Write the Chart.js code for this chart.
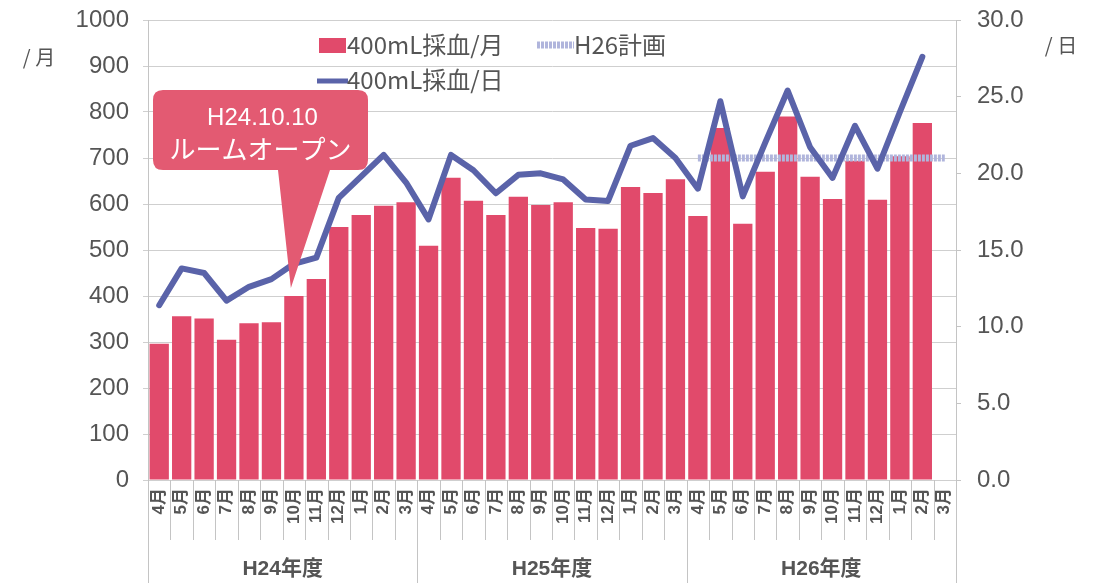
<!DOCTYPE html>
<html>
<head>
<meta charset="utf-8">
<script src="https://cdn.jsdelivr.net/npm/chart.js@4.4.1/dist/chart.umd.min.js"></script>
<style>
  html, body { margin: 0; padding: 0; background: #fff; }
  #wrap { width: 1099px; height: 583px; }
</style>
</head>
<body>
<div id="wrap"><canvas id="chart" width="1099" height="583"></canvas></div>
<script>
// data
const months = ['4月','5月','6月','7月','8月','9月','10月','11月','12月','1月','2月','3月'];
const fiscalYears = ['H24年度', 'H25年度', 'H26年度'];
const labels = [...months, ...months, ...months];

const perMonth = [
  296, 356, 351, 305, 341, 343, 400, 437, 550, 576, 596, 604,
  509, 657, 607, 576, 616, 598, 604, 548, 546, 637, 624, 654,
  574, 765, 557, 670, 790, 659, 611, 694, 609, 704, 776, null
];
const perDay = [
  11.4, 13.8, 13.5, 11.7, 12.6, 13.1, 14.1, 14.5, 18.4, 19.8, 21.2, 19.4,
  17.0, 21.2, 20.2, 18.7, 19.9, 20.0, 19.6, 18.3, 18.2, 21.8, 22.3, 21.0,
  19.0, 24.7, 18.5, 22.0, 25.4, 21.7, 19.7, 23.1, 20.3, 24.0, 27.6, null
];
const planH26 = [
  null, null, null, null, null, null, null, null, null, null, null, null,
  null, null, null, null, null, null, null, null, null, null, null, null,
  700, 700, 700, 700, 700, 700, 700, 700, 700, 700, 700, 700
];
const leftTicks = { min: 0, max: 1000, step: 100 };
const rightTicks = { min: 0, max: 30, step: 5 };

const BAR = '#e14a6b';
const LINE = '#5a63a9';
const PLAN = '#b0b5dc';
const TEXT = '#555';
const FONT = "'Liberation Sans', 'Noto Sans CJK JP', sans-serif";
const JFONT = "'Noto Sans CJK JP', sans-serif";

// extra drawing: callout, legend, axis titles, category dividers
const deco = {
  id: 'deco',
  afterDatasetsDraw(chart) {
    const ctx = chart.ctx;
    const x = chart.scales.x, y = chart.scales.y;
    const tipX = x.getPixelForValue(6) - 3;
    const tipY = y.getPixelForValue(perMonth[6]) - 8;
    const bx = 153, by = 90, bw = 215, bh = 80, r = 10;
    ctx.save();
    ctx.fillStyle = '#e35a72';
    ctx.beginPath();
    ctx.moveTo(bx + r, by);
    ctx.lineTo(bx + bw - r, by);
    ctx.quadraticCurveTo(bx + bw, by, bx + bw, by + r);
    ctx.lineTo(bx + bw, by + bh - r);
    ctx.quadraticCurveTo(bx + bw, by + bh, bx + bw - r, by + bh);
    ctx.lineTo(330, by + bh);
    ctx.lineTo(tipX, tipY);
    ctx.lineTo(278, by + bh);
    ctx.lineTo(bx + r, by + bh);
    ctx.quadraticCurveTo(bx, by + bh, bx, by + bh - r);
    ctx.lineTo(bx, by + r);
    ctx.quadraticCurveTo(bx, by, bx + r, by);
    ctx.closePath();
    ctx.fill();
    ctx.fillStyle = '#fff';
    ctx.textAlign = 'center';
    ctx.textBaseline = 'middle';
    ctx.font = '24px ' + FONT;
    ctx.fillText('H24.10.10', bx + bw / 2 + 2, 118);
    ctx.font = '26px ' + JFONT;
    ctx.fillText('ルームオープン', bx + bw / 2, 149);
    ctx.restore();
  },
  afterDraw(chart) {
    const ctx = chart.ctx;
    const x = chart.scales.x;
    const area = chart.chartArea;
    const w = x.getPixelForValue(1) - x.getPixelForValue(0);
    ctx.save();
    // dividers under the axis
    ctx.strokeStyle = '#c4c4c4';
    ctx.lineWidth = 1;
    for (let i = 0; i <= labels.length; i++) {
      const px = Math.round(x.getPixelForValue(0) - w / 2 + i * w) + 0.5;
      ctx.beginPath();
      ctx.moveTo(px, area.bottom);
      ctx.lineTo(px, i % 12 === 0 ? 583 : 540);
      ctx.stroke();
    }
    // fiscal year labels
    ctx.fillStyle = TEXT;
    ctx.font = 'bold 21px ' + FONT;
    ctx.textAlign = 'center';
    ctx.textBaseline = 'middle';
    fiscalYears.forEach((fy, k) => {
      const cx = (x.getPixelForValue(k * 12) + x.getPixelForValue(k * 12 + 11)) / 2;
      ctx.fillText(fy, cx, 569);
    });
    // axis units
    ctx.font = '20px ' + JFONT;
    ctx.fillText('/ 月', 39, 57);
    ctx.fillText('/ 日', 1061, 45);
    // legend
    ctx.textAlign = 'left';
    ctx.font = '24px ' + JFONT;
    ctx.fillStyle = BAR;
    ctx.fillRect(319, 38, 27, 15);
    ctx.fillStyle = TEXT;
    ctx.fillText('400mL採血/月', 347, 45);
    ctx.strokeStyle = PLAN;
    ctx.lineWidth = 7;
    ctx.setLineDash([3, 1]);
    ctx.beginPath();
    ctx.moveTo(537, 45);
    ctx.lineTo(574, 45);
    ctx.stroke();
    ctx.setLineDash([]);
    ctx.fillText('H26計画', 574, 45);
    ctx.strokeStyle = LINE;
    ctx.lineWidth = 5;
    ctx.beginPath();
    ctx.moveTo(317, 81);
    ctx.lineTo(348, 81);
    ctx.stroke();
    ctx.fillText('400mL採血/日', 347, 80);
    ctx.restore();
  }
};

const noPad = (s) => { s.paddingTop = 0; s.paddingBottom = 0; };

new Chart(document.getElementById('chart'), {
  type: 'bar',
  data: {
    labels: labels,
    datasets: [
      {
        type: 'line',
        label: '400mL採血/日',
        data: perDay,
        yAxisID: 'y1',
        borderColor: LINE,
        borderWidth: 6,
        borderJoinStyle: 'round',
        borderCapStyle: 'round',
        pointRadius: 0,
        tension: 0,
        order: 0
      },
      {
        type: 'line',
        label: 'H26計画',
        data: planH26,
        yAxisID: 'y',
        borderColor: PLAN,
        borderWidth: 7,
        borderDash: [3, 1],
        pointRadius: 0,
        order: 1
      },
      {
        label: '400mL採血/月',
        data: perMonth,
        yAxisID: 'y',
        backgroundColor: BAR,
        barPercentage: 1,
        categoryPercentage: 0.86,
        order: 2
      }
    ]
  },
  options: {
    responsive: false,
    animation: false,
    layout: { padding: { top: 20, left: 0, right: 0, bottom: 0 } },
    plugins: {
      legend: { display: false },
      tooltip: { enabled: false }
    },
    scales: {
      x: {
        afterFit: (s) => { s.height = 103; s.paddingLeft = 0; s.paddingRight = 0; },
        grid: { display: false, drawTicks: false },
        border: { display: false },
        ticks: {
          autoSkip: false,
          maxRotation: 90,
          minRotation: 90,
          padding: 8,
          color: TEXT,
          font: { family: FONT, size: 17, weight: 'bold' }
        }
      },
      y: {
        position: 'left',
        min: leftTicks.min,
        max: leftTicks.max,
        afterFit: (s) => { s.width = 148; noPad(s); },
        grid: { color: '#cfcfcf', tickLength: 5 },
        border: { color: '#c4c4c4' },
        ticks: {
          stepSize: leftTicks.step,
          padding: 14,
          color: TEXT,
          font: { family: FONT, size: 24 },
          callback: (v) => String(v)
        }
      },
      y1: {
        position: 'right',
        min: rightTicks.min,
        max: rightTicks.max,
        afterFit: (s) => { s.width = 143; noPad(s); },
        grid: { drawOnChartArea: false, color: '#c4c4c4', tickLength: 5 },
        border: { color: '#c4c4c4' },
        ticks: {
          stepSize: rightTicks.step,
          padding: 16,
          color: TEXT,
          font: { family: FONT, size: 24 },
          callback: (v) => Number(v).toFixed(1)
        }
      }
    }
  },
  plugins: [deco]
});
</script>
</body>
</html>
